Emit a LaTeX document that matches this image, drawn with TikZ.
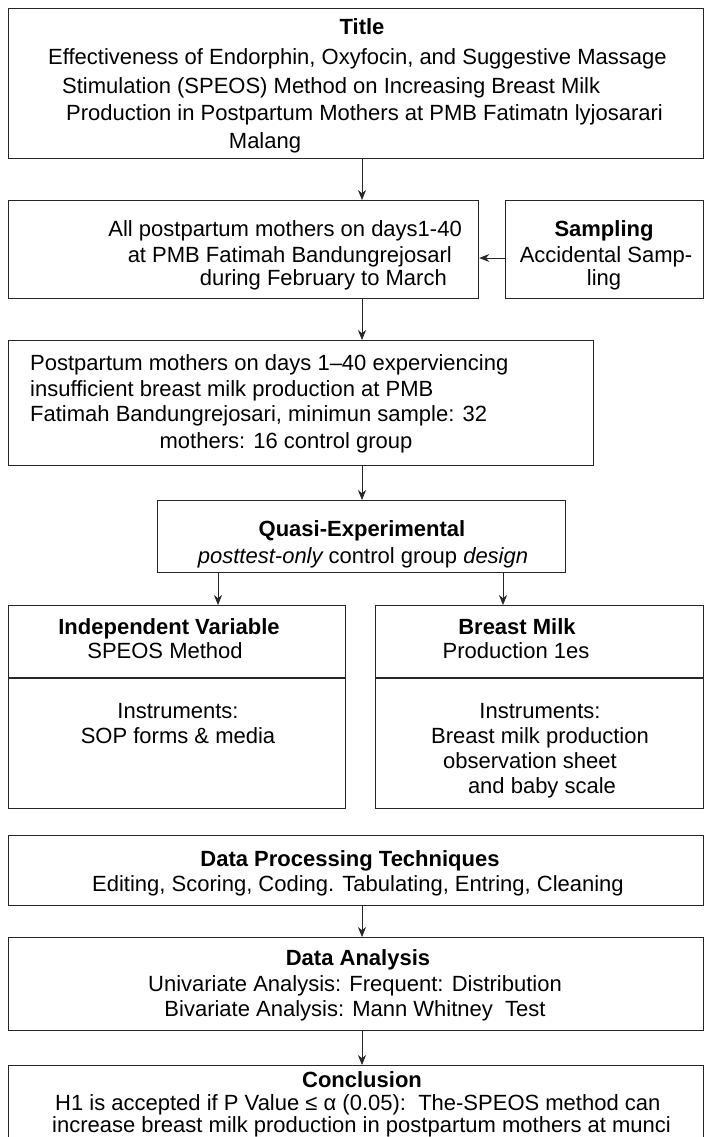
\documentclass[tikz,border=0pt]{standalone}
\usepackage{fontspec}
\setmainfont{Liberation Sans}
\usetikzlibrary{arrows.meta}
\begin{document}
\begin{tikzpicture}[x=1pt,y=-1pt,
  box/.style={draw=black!85, line width=1.3pt, inner sep=0pt, anchor=north west},
  txt/.style={font=\fontsize{22}{26}\selectfont, inner sep=0pt, anchor=base},
  txtw/.style={txt, anchor=base west},
  bold/.style={txt, font=\fontsize{22}{26}\selectfont\bfseries},
  arr/.style={-{Stealth[length=10pt,width=8pt]}, line width=0.8pt, draw=black!85}]
\useasboundingbox (0,0) rectangle (706,1137);
\fill[white] (0,0) rectangle (706,1137);
% boxes
\node[box, minimum width=695pt, minimum height=150pt] (title) at (8,8) {};
\node[box, minimum width=470pt, minimum height=98pt] (pop) at (8,200) {};
\node[box, minimum width=198pt, minimum height=98pt] (samp) at (505,200) {};
\node[box, minimum width=585pt, minimum height=125pt] (sample) at (8,340) {};
\node[box, minimum width=408pt, minimum height=72pt] (quasi) at (157,500) {};
\node[box, minimum width=337pt, minimum height=203pt] (indep) at (8,605) {};
\node[box, minimum width=328pt, minimum height=203pt] (dep) at (375,605) {};
\node[box, minimum width=695pt, minimum height=70pt] (proc) at (8,835) {};
\node[box, minimum width=695pt, minimum height=93pt] (anal) at (8,937) {};
\node[box, minimum width=695pt, minimum height=120pt] (concl) at (8,1065) {};
\draw[draw=black!85, line width=1.3pt] (indep.west |- 0,678) -- (indep.east |- 0,678);
\draw[draw=black!85, line width=1.3pt] (dep.west |- 0,678) -- (dep.east |- 0,678);
% texts
\node[bold] (t0) at (362,35) {Title};
\node[txtw] (t1) at (48,65) {Effectiveness of Endorphin, Oxyfocin, and Suggestive Massage};
\node[txtw] (t2) at (62,94) {Stimulation (SPEOS) Method on Increasing Breast Milk};
\node[txtw] (t3) at (66,121) {Production in Postpartum Mothers at PMB Fatimatn lyjosarari};
\node[txt] (t4) at (265,148) {Malang};
\node[txt, anchor=base east] (p1) at (462,236) {All postpartum mothers on days1-40};
\node[txt, anchor=base east] (p2) at (452,262) {at PMB Fatimah Bandungrejosarl};
\node[txt, anchor=base east] (p3) at (447,285) {during February to March};
\node[bold] (s0) at (604,236) {Sampling};
\node[txt] (s1) at (606,262) {Accidental Samp-};
\node[txt] (s2) at (604,285) {ling};
\node[txtw] (m1) at (30,370) {Postpartum mothers on days 1–40 experviencing};
\node[txtw] (m2) at (30,396) {insufficient breast milk production at PMB};
\node[txtw] (m3) at (30,421) {Fatimah Bandungrejosari, minimun sample: 32};
\node[txt] (m4) at (286,448) {mothers: 16 control group};
\node[bold] (q0) at (362,536) {Quasi-Experimental};
\node[txt] (q1) at (363,563) {\itshape posttest-only\upshape{} control group \itshape design};
\node[bold] (i0) at (169,634) {Independent Variable};
\node[txt] (i1) at (165,658) {SPEOS Method};
\node[txt] (i2) at (178,718) {Instruments:};
\node[txt] (i3) at (178,743) {SOP forms \& media};
\node[bold] (d0) at (517,634) {Breast Milk};
\node[txt] (d1) at (516,658) {Production 1es};
\node[txt] (d2) at (540,718) {Instruments:};
\node[txt] (d3) at (540,743) {Breast milk production};
\node[txt] (d4) at (530,768) {observation sheet};
\node[txt] (d5) at (542,793) {and baby scale};
\node[bold] (e0) at (350,866) {Data Processing Techniques};
\node[txt] (e1) at (358,891) {Editing, Scoring, Coding. Tabulating, Entring, Cleaning};
\node[bold] (a0) at (358,965) {Data Analysis};
\node[txt] (a1) at (355,991) {Univariate Analysis: Frequent: Distribution};
\node[txt] (a2) at (355,1016) {Bivariate Analysis: Mann Whitney\ \ Test};
\node[bold] (c0) at (362,1087) {Conclusion};
\node[txtw] (c1) at (55,1110) {H1 is accepted if P Value ≤ α (0.05):\ \ The-SPEOS method can};
\node[txtw] (c2) at (52,1132) {increase breast milk production in postpartum mothers at munci};
% arrows
\draw[arr] (title.south -| 362,0) -- (pop.north -| 362,0);
\draw[arr] (samp.west |- 0,258) -- (pop.east |- 0,258);
\draw[arr] (pop.south -| 362,0) -- (sample.north -| 362,0);
\draw[arr] (sample.south -| 362,0) -- (quasi.north -| 362,0);
\draw[arr] (quasi.south -| 218,0) -- (indep.north -| 218,0);
\draw[arr] (quasi.south -| 503,0) -- (dep.north -| 503,0);
\draw[arr] (proc.south -| 362,0) -- (anal.north -| 362,0);
\draw[arr] (anal.south -| 362,0) -- (concl.north -| 362,0);
\end{tikzpicture}
\end{document}
